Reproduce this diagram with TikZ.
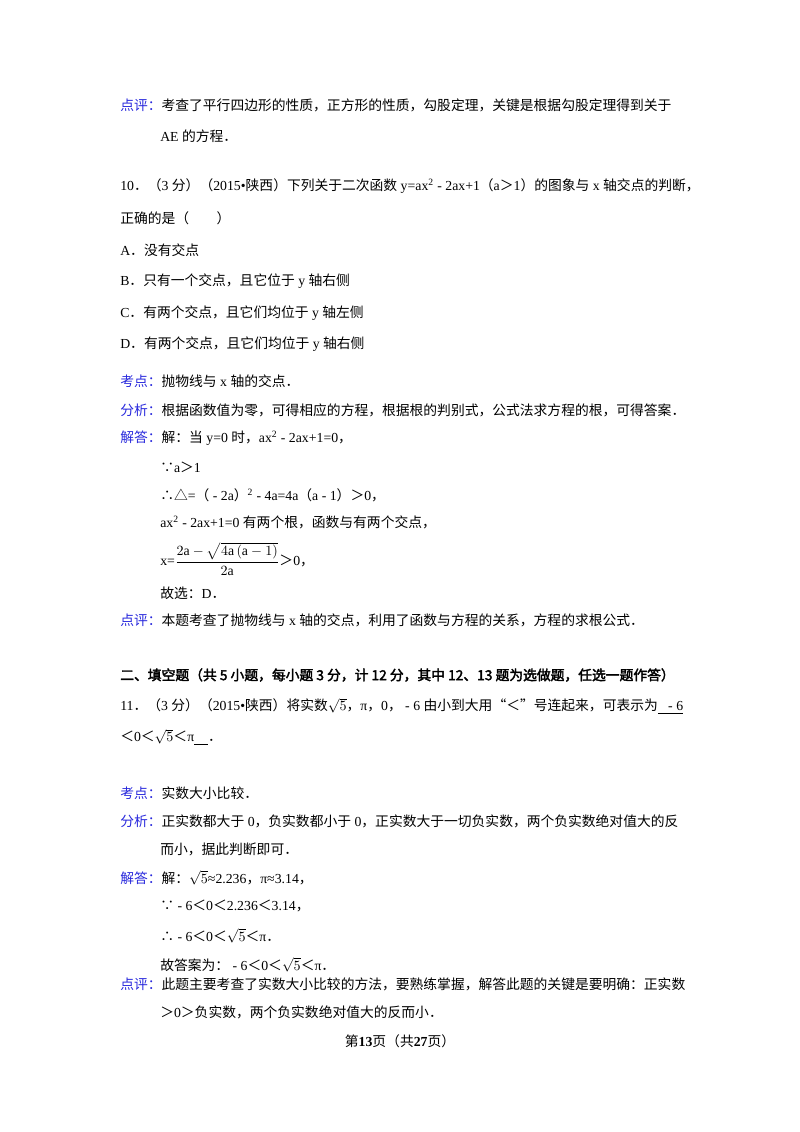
\documentclass[tikz,border=0pt]{standalone}
\usepackage{fontspec}
\usepackage{amsmath}
\setmainfont{Liberation Serif}
\newfontfamily\cjkf{Noto Sans CJK SC}
\newfontfamily\cjkb{Noto Sans CJK SC}[FakeBold=2.5]
\newfontfamily\latf{Liberation Serif}
\newXeTeXintercharclass\cjkclass
\count255="4E00 \loop \XeTeXcharclass\count255=\cjkclass \advance\count255 1 \ifnum\count255<"A000 \repeat
\count255="3000 \loop \XeTeXcharclass\count255=\cjkclass \advance\count255 1 \ifnum\count255<"3040 \repeat
\count255="FF00 \loop \XeTeXcharclass\count255=\cjkclass \advance\count255 1 \ifnum\count255<"FFF0 \repeat
\XeTeXcharclass"201C=\cjkclass \XeTeXcharclass"201D=\cjkclass \XeTeXcharclass"25B3=\cjkclass
\XeTeXcharclass"2235=\cjkclass \XeTeXcharclass"2234=\cjkclass
\XeTeXinterchartoks 0 \cjkclass = {\cjkf}
\XeTeXinterchartoks 4095 \cjkclass = {\cjkf}
\XeTeXinterchartoks \cjkclass 0 = {\latf}
\XeTeXinterchartoks \cjkclass 4095 = {\latf}
\definecolor{labelblue}{RGB}{40,40,220}
\newcommand{\lab}[1]{\textcolor{labelblue}{#1}}
\tikzset{
  txt/.style={anchor=west, inner sep=0pt, font=\fontsize{9.8}{11}\selectfont},
}
\begin{document}
\XeTeXinterchartokenstate=1
\begin{tikzpicture}[x=0.025cm, y=-0.025cm]
\useasboundingbox (0,0) rectangle (800,1132);
% question 10 remark
\node[txt] (r9a) at (120,105) {\lab{点评：}考查了平行四边形的性质，正方形的性质，勾股定理，关键是根据勾股定理得到关于};
\node[txt] (r9b) at (160,136) {AE 的方程．};
% question 10
\node[txt] (q10a) at (120,186) {10．（3 分）（2015•陕西）下列关于二次函数 y=ax\textsuperscript{2} - 2ax+1（a＞1）的图象与 x 轴交点的判断，};
\node[txt] (q10b) at (120,218) {正确的是（　　）};
\node[txt] (optA) at (120,250) {A．没有交点};
\node[txt] (optB) at (120,281) {B．只有一个交点，且它位于 y 轴右侧};
\node[txt] (optC) at (120,313) {C．有两个交点，且它们均位于 y 轴左侧};
\node[txt] (optD) at (120,344) {D．有两个交点，且它们均位于 y 轴右侧};
\node[txt] (kd10) at (120,381) {\lab{考点：}抛物线与 x 轴的交点．};
\node[txt] (fx10) at (120,410) {\lab{分析：}根据函数值为零，可得相应的方程，根据根的判别式，公式法求方程的根，可得答案．};
\node[txt] (jd10) at (120,438) {\lab{解答：}解：当 y=0 时，ax\textsuperscript{2} - 2ax+1=0，};
\node[txt] (s1) at (160,467) {∵a＞1};
\node[txt] (s2) at (160,495) {∴△=（ - 2a）\textsuperscript{2} - 4a=4a（a - 1）＞0，};
\node[txt] (s3) at (160,522) {ax\textsuperscript{2} - 2ax+1=0 有两个根，函数与有两个交点，};
\node[txt] (s4) at (160,559) {x=$\dfrac{2\mathrm{a}-\sqrt{4\mathrm{a}\,(\mathrm{a}-1)}}{2\mathrm{a}}$＞0，};
\node[txt] (s5) at (160,593) {故选：D．};
\node[txt] (dp10) at (120,620) {\lab{点评：}本题考查了抛物线与 x 轴的交点，利用了函数与方程的关系，方程的求根公式．};
% section two
\node[txt] (sec2) at (120,675) {\XeTeXinterchartokenstate=0\cjkb 二、填空题（共 5 小题，每小题 3 分，计 12 分，其中 12、13 题为选做题，任选一题作答）};
% question 11
\node[txt] (q11a) at (120,706) {11．（3 分）（2015•陕西）将实数$\sqrt{5}$，π，0， - 6 由小到大用“＜”号连起来，可表示为\underline{\ \ \ - 6}};
\node[txt] (q11b) at (120,737) {＜0＜$\sqrt{5}$＜π\underline{\ \ \ \ }．};
\node[txt] (kd11) at (120,793) {\lab{考点：}实数大小比较．};
\node[txt] (fx11a) at (120,821) {\lab{分析：}正实数都大于 0，负实数都小于 0，正实数大于一切负实数，两个负实数绝对值大的反};
\node[txt] (fx11b) at (160,849) {而小，据此判断即可．};
\node[txt] (jd11) at (120,878) {\lab{解答：}解：$\sqrt{5}$≈2.236，π≈3.14，};
\node[txt] (t1) at (160,906) {∵ - 6＜0＜2.236＜3.14，};
\node[txt] (t2) at (160,936) {∴ - 6＜0＜$\sqrt{5}$＜π．};
\node[txt] (t3) at (160,965) {故答案为： - 6＜0＜$\sqrt{5}$＜π．};
\node[txt] (dp11a) at (120,984) {\lab{点评：}此题主要考查了实数大小比较的方法，要熟练掌握，解答此题的关键是要明确：正实数};
\node[txt] (dp11b) at (160,1012) {＞0＞负实数，两个负实数绝对值大的反而小．};
% footer
\node[txt, anchor=center] (foot) at (400,1041) {第\textbf{13}页（共\textbf{27}页）};
\end{tikzpicture}
\end{document}
